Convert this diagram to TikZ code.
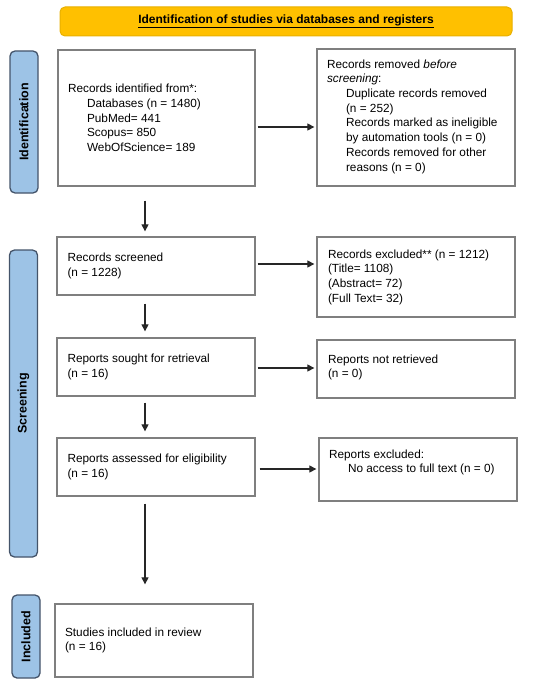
\documentclass[tikz,border=0pt]{standalone}
\usepackage{fontspec}
\setmainfont{Liberation Sans}
\usetikzlibrary{arrows.meta,calc}
\definecolor{boxgray}{HTML}{7F7F7F}
\definecolor{sidefill}{HTML}{9DC3E6}
\definecolor{sideline}{HTML}{44546A}
\definecolor{banfill}{HTML}{FFC000}
\definecolor{banline}{HTML}{E8B000}
\definecolor{arrcol}{HTML}{262626}
\tikzset{
  box/.style={draw=boxgray, line width=1.3pt, fill=white, minimum width=198pt, inner sep=0pt},
  txt/.style={anchor=west, align=left, inner sep=0pt, font=\fontsize{11.8pt}{14.7pt}\selectfont},
  side/.style={draw=sideline, fill=sidefill, line width=1.3pt, rounded corners=5pt, minimum width=28pt, inner sep=0pt},
  sidetxt/.style={rotate=90, font=\fontsize{12.5pt}{14pt}\selectfont\bfseries, inner sep=0pt},
  arr/.style={draw=arrcol, line width=1.1pt, -{Triangle[length=7pt,width=7pt]}},
}
\newcommand{\ind}{\hspace*{19pt}}
\begin{document}
\begin{tikzpicture}[x=1pt,y=-1pt]
\useasboundingbox (0,0) rectangle (550,687);
% banner
\node[draw=banline, fill=banfill, line width=1pt, rounded corners=5pt, minimum width=452pt, minimum height=29pt, inner sep=0pt,
  font=\fontsize{12pt}{14pt}\selectfont\bfseries] (ban) at (286,21.5) {\underline{Identification of studies via databases and registers}};
% sidebars
\node[side, minimum height=142pt] (s1) at (24,122) {};
\node[sidetxt] (s1t) at (s1.center) {Identification};
\node[side, minimum height=307pt] (s2) at (23.5,403.5) {};
\node[sidetxt] (s2t) at (s2.center) {Screening};
\node[side, minimum height=83pt] (s3) at (26,636.5) {};
\node[sidetxt] (s3t) at (s3.center) {Included};
% boxes
\node[box, minimum width=197pt, minimum height=136pt] (b1) at (156.5,118) {};
\node[box, minimum height=137pt] (b2) at (416,117.5) {};
\node[box, minimum height=58pt] (b3) at (156,266) {};
\node[box, minimum height=80pt] (b4) at (416,277) {};
\node[box, minimum height=58pt] (b5) at (156,367) {};
\node[box, minimum height=58pt] (b6) at (416,369) {};
\node[box, minimum height=58pt] (b7) at (156,467) {};
\node[box, minimum height=63pt] (b8) at (418,469.5) {};
\node[box, minimum height=73pt] (b9) at (154,640.5) {};
% texts
\node[txt] (t1) at ([xshift=10.5pt]b1.west) {Records identified from*:\\ \ind Databases (n = 1480)\\ \ind PubMed= 441\\ \ind Scopus= 850\\ \ind WebOfScience= 189};
\node[txt] (t2) at ([xshift=10.5pt,yshift=1pt]b2.west) {Records removed \textit{before}\\ \textit{screening}:\\ \ind Duplicate records removed\\ \ind (n = 252)\\ \ind Records marked as ineligible\\ \ind by automation tools (n = 0)\\ \ind Records removed for other\\ \ind reasons (n = 0)};
\node[txt] (t3) at ([xshift=11pt]b3.west) {Records screened\\ (n = 1228)};
\node[txt] (t4) at ([xshift=11.5pt]b4.west) {Records excluded** (n = 1212)\\ (Title= 1108)\\ (Abstract= 72)\\ (Full Text= 32)};
\node[txt] (t5) at ([xshift=11pt]b5.west) {Reports sought for retrieval\\ (n = 16)};
\node[txt] (t6) at ([xshift=11.5pt,yshift=1.5pt]b6.west) {Reports not retrieved\\ (n = 0)};
\node[txt] (t7) at ([xshift=11pt]b7.west) {Reports assessed for eligibility\\ (n = 16)};
\node[txt] (t8) at ([xshift=10.5pt,yshift=7pt]b8.west) {Reports excluded:\\ \ind No access to full text (n = 0)};
\node[txt] (t9) at ([xshift=10.5pt]b9.west) {Studies included in review\\ (n = 16)};
% helper coordinate for the long arrow
\coordinate (c9) at ([xshift=-11pt]b7.south |- b9.north);
% horizontal arrows
\draw[arr] ([xshift=2pt,yshift=-9pt]b1.east) -- ([xshift=-2pt,yshift=-9pt]b1.east -| b2.west);
\draw[arr] ([xshift=2pt,yshift=2pt]b3.east) -- ([xshift=-2pt,yshift=2pt]b3.east -| b4.west);
\draw[arr] ([xshift=2pt,yshift=-1pt]b5.east) -- ([xshift=-2pt,yshift=-1pt]b5.east -| b6.west);
\draw[arr] ([xshift=4pt,yshift=-2pt]b7.east) -- ([xshift=-2pt,yshift=-2pt]b7.east -| b8.west);
% vertical arrows
\draw[arr] ([xshift=-11.5pt,yshift=-14pt]b1.south) -- ([xshift=-11pt,yshift=5pt]b3.north);
\draw[arr] ([xshift=-11pt,yshift=-8pt]b3.south) -- ([xshift=-11pt,yshift=6pt]b5.north);
\draw[arr] ([xshift=-11pt,yshift=-6pt]b5.south) -- ([xshift=-11pt,yshift=6pt]b7.north);
\draw[arr] ([xshift=-11pt,yshift=-7pt]b7.south) -- ([yshift=19pt]c9);
\end{tikzpicture}
\end{document}
